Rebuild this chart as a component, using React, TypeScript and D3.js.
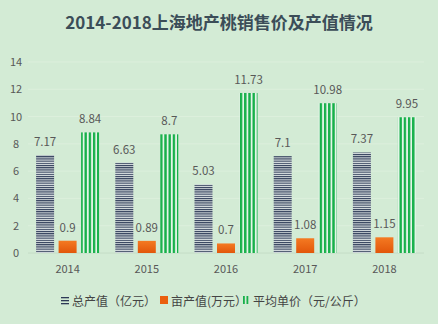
import React from "react";
import * as d3 from "d3";

const years = ["2014", "2015", "2016", "2017", "2018"];
const totalValue = [7.17, 6.63, 5.03, 7.1, 7.37];
const perMuValue = [0.9, 0.89, 0.7, 1.08, 1.15];
const avgPrice = [8.84, 8.7, 11.73, 10.98, 9.95];
const yTicks = [0, 2, 4, 6, 8, 10, 12, 14];
const seriesNames = ["总产值（亿元）", "亩产值(万元）", "平均单价（元/公斤）"];

const W = 438, H = 324;
const plot = { left: 28, right: 424, top: 62, bottom: 253 };
const FONT = "'Noto Sans CJK SC', 'Open Sans', sans-serif";

export default function App() {
  const x = d3.scaleBand<string>().domain(years).range([plot.left, plot.right]).padding(0);
  const y = d3.scaleLinear().domain([0, 14]).range([plot.bottom, plot.top]);
  const barW = 18, gap = 4.5;
  const series = [totalValue, perMuValue, avgPrice];
  const fills = ["url(#hstripe)", "url(#orangeGrad)", "url(#vstripe)"];
  const fmt = (v: number) => String(v);

  return (
    <svg width={W} height={H} style={{ position: "absolute", left: 0, top: 0, display: "block" }}>
      <defs>
        <pattern id="hstripe" patternUnits="userSpaceOnUse" width="4" height="2.2">
          <rect width="4" height="2.2" fill="#dfe6e6" />
          <rect width="4" height="1.1" fill="#2d3a57" />
        </pattern>
        <pattern id="vstripe" patternUnits="userSpaceOnUse" width="4.2" height="4" x="0.5">
          <rect width="4.2" height="4" fill="#e4f5e8" />
          <rect width="2.4" height="4" fill="#17b04a" />
        </pattern>
        <linearGradient id="orangeGrad" x1="0" y1="0" x2="0" y2="1">
          <stop offset="0" stopColor="#f47a22" />
          <stop offset="1" stopColor="#e2560a" />
        </linearGradient>
      </defs>
      <rect width={W} height={H} fill="#d3ebd5" />
      <text x={219} y={29} textAnchor="middle" fontFamily={FONT} fontWeight="bold" fontSize={17} fill="#3b4d58">
        2014-2018上海地产桃销售价及产值情况
      </text>
      {yTicks.map((t) => (
        <g key={t}>
          <line x1={plot.left} x2={plot.right} y1={y(t)} y2={y(t)} stroke={t === 0 ? "#c4dcc6" : "#dcefdc"} strokeWidth={1} />
          <text x={16} y={y(t) + 4} textAnchor="middle" fontFamily={FONT} fontSize={11} fill="#585858">
            {t}
          </text>
        </g>
      ))}
      {years.map((yr, i) => {
        const cx = (x(yr) as number) + x.bandwidth() / 2;
        return (
          <g key={yr}>
            {series.map((s, j) => {
              const bx = cx - (barW * 1.5 + gap) + j * (barW + gap);
              const top = y(s[i]);
              return (
                <g key={j}>
                  <rect x={bx} y={top} width={barW} height={y(0) - top} fill={fills[j]} />
                  <text x={bx + barW / 2} y={top - 9} textAnchor="middle" fontFamily={FONT} fontSize={11.5} fill="#585858">
                    {fmt(s[i])}
                  </text>
                </g>
              );
            })}
            <text x={cx} y={y(0) + 20} textAnchor="middle" fontFamily={FONT} fontSize={11} fill="#585858">
              {yr}
            </text>
          </g>
        );
      })}
      <g fontFamily={FONT} fontSize={12} fill="#444">
        <rect x={61} y={297} width={8} height={1.3} fill="#2d3a57" />
        <rect x={61} y={300} width={8} height={1.3} fill="#2d3a57" />
        <rect x={61} y={303} width={8} height={1.3} fill="#2d3a57" />
        <text x={72} y={306}>{seriesNames[0]}</text>
        <rect x={160} y={296} width={8} height={8} fill="#ea5f0e" />
        <text x={171} y={306}>{seriesNames[1]}</text>
        <rect x={243} y={296} width={1.8} height={8} fill="#17b04a" />
        <rect x={246.5} y={296} width={1.8} height={8} fill="#17b04a" />
        <text x={253} y={306}>{seriesNames[2]}</text>
      </g>
    </svg>
  );
}
